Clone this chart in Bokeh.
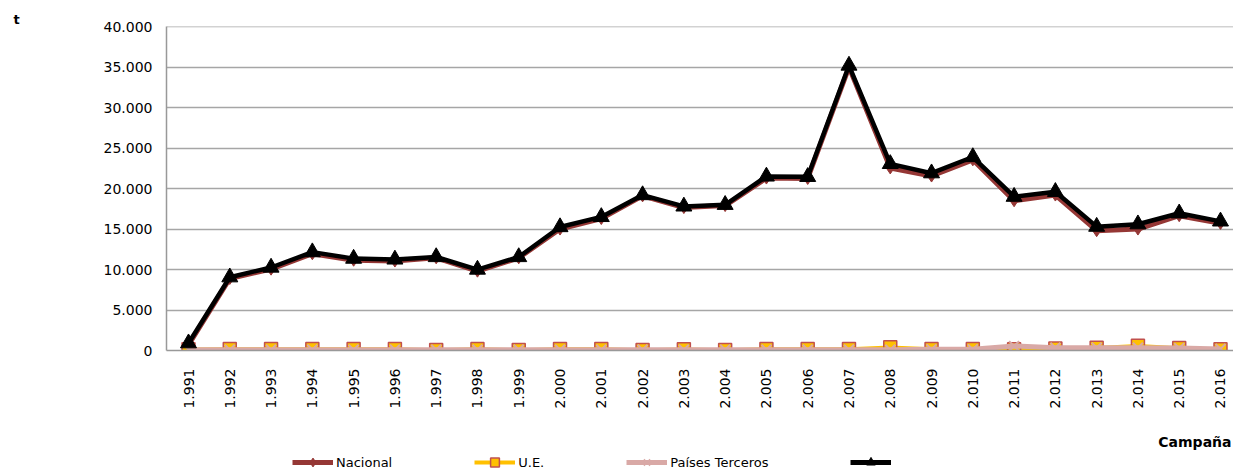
from math import pi
from bokeh.plotting import figure
from bokeh.layouts import column
from bokeh.models import Range1d, FixedTicker, Legend, LegendItem, Title, Label
from bokeh.core.properties import value
from bokeh.embed import file_html
from bokeh.resources import INLINE

# ---------------- data ----------------
years = ["1.991", "1.992", "1.993", "1.994", "1.995", "1.996", "1.997", "1.998",
         "1.999", "2.000", "2.001", "2.002", "2.003", "2.004", "2.005", "2.006",
         "2.007", "2.008", "2.009", "2.010", "2.011", "2.012", "2.013", "2.014",
         "2.015", "2.016"]
total = [900, 9050, 10250, 12150, 11350, 11250, 11550, 10000, 11550, 15250,
         16500, 19200, 17800, 18000, 21500, 21450, 35200, 23050, 21900, 23900,
         19000, 19600, 15300, 15600, 16950, 15950]
nacional = [700, 8900, 10050, 11950, 11150, 11050, 11450, 9800, 11450, 15000,
            16300, 19100, 17650, 17900, 21300, 21250, 35000, 22550, 21550, 23550,
            18500, 19200, 14800, 15000, 16650, 15700]
ue = [150, 200, 200, 200, 200, 200, 50, 200, 50, 200, 200, 50, 150, 50, 200,
      200, 200, 400, 200, 200, 150, 250, 350, 600, 300, 150]
paises = [100, 100, 100, 100, 100, 100, 100, 100, 100, 100, 100, 100, 100, 100,
          100, 100, 100, 100, 150, 150, 550, 350, 350, 350, 300, 200]
y_ticks = [0, 5000, 10000, 15000, 20000, 25000, 30000, 35000, 40000]
y_tick_labels = ["0", "5.000", "10.000", "15.000", "20.000", "25.000",
                 "30.000", "35.000", "40.000"]
series_names = ["Nacional", "U.E.", "Países Terceros", ""]
unit_label = "t"
x_title = "Campaña"

x = list(range(len(years)))

FONT = "DejaVu Sans"
c_nac = "#953735"
c_ue = "#FFC000"
c_ue_edge = "#C0504D"
c_pt = "#D9A9A6"

# ---------------- main chart ----------------
p = figure(width=1233, height=411, output_backend="svg", toolbar_location=None,
           x_range=Range1d(-0.533, 25.315), y_range=Range1d(0, 40020),
           min_border_left=166, min_border_right=0, min_border_top=26,
           min_border_bottom=61)
p.outline_line_color = None
p.background_fill_color = "white"
p.border_fill_color = "white"

p.xgrid.grid_line_color = None
p.ygrid.grid_line_color = "#A6A6A6"
p.ygrid.grid_line_width = 1.5
p.ygrid.ticker = FixedTicker(ticks=y_ticks)

p.yaxis.ticker = FixedTicker(ticks=y_ticks)
p.yaxis.major_label_overrides = {t: l for t, l in zip(y_ticks, y_tick_labels)}
p.yaxis.axis_line_color = "#999999"
p.yaxis.axis_line_width = 1.5
p.yaxis.major_tick_out = 0
p.yaxis.major_tick_in = 0
p.yaxis.minor_tick_line_color = None
p.yaxis.major_label_standoff = 14
p.yaxis.major_label_text_font = FONT
p.yaxis.major_label_text_font_size = "14px"
p.yaxis.major_label_text_color = "#000000"

p.xaxis.ticker = FixedTicker(ticks=x)
p.xaxis.major_label_overrides = {i: y for i, y in zip(x, years)}
p.xaxis.major_label_orientation = pi / 2
p.xaxis.axis_line_color = "#999999"
p.xaxis.axis_line_width = 1.5
p.xaxis.major_tick_out = 0
p.xaxis.major_tick_in = 0
p.xaxis.minor_tick_line_color = None
p.xaxis.major_label_standoff = 18
p.xaxis.major_label_text_font = FONT
p.xaxis.major_label_text_font_size = "14px"
p.xaxis.major_label_text_color = "#000000"

p.line(x, nacional, line_color=c_nac, line_width=5, line_join="round")
p.scatter(x, nacional, marker="diamond", size=12, fill_color=c_nac, line_color=c_nac)
p.line(x, ue, line_color=c_ue, line_width=3.5, line_join="round")
p.scatter(x, ue, marker="square", size=13, fill_color=c_ue,
          line_color=c_ue_edge, line_width=1.5)
p.line(x, paises, line_color=c_pt, line_width=5, line_join="round")
p.scatter(x, paises, marker="x", size=14, line_color=c_pt, line_width=2)
p.line(x, total, line_color="black", line_width=4.5, line_join="round")
p.scatter(x, total, marker="triangle", size=16, fill_color="black", line_color="black")

p.add_layout(Title(text=unit_label, align="left", offset=-153, standoff=0,
                   text_font=FONT, text_font_size="13px", text_font_style="bold",
                   text_color="#000000"), "above")

# ---------------- strip below: axis title + legend ----------------
# (the column aligns this strip's frame with the chart's frame, which starts at 166px)
q = figure(width=1233, height=60, output_backend="svg", toolbar_location=None,
           x_range=Range1d(166, 1233), y_range=Range1d(-60, 0),
           min_border=0, min_border_left=0, min_border_right=0,
           min_border_top=0, min_border_bottom=0)
q.axis.visible = False
q.grid.grid_line_color = None
q.outline_line_color = None
q.background_fill_color = "white"
q.border_fill_color = "white"

q.add_layout(Label(x=1231, y=-30, text=x_title, text_font=FONT,
                   text_font_size="14px", text_font_style="bold",
                   text_color="#000000", text_align="right",
                   text_baseline="middle"))

# legend swatches (series data lies outside this strip's visible range)
sw = []
sw.append([q.line(x, nacional, line_color=c_nac, line_width=5),
           q.scatter(x, nacional, marker="diamond", size=9, fill_color=c_nac,
                     line_color=c_nac)])
sw.append([q.line(x, ue, line_color=c_ue, line_width=4),
           q.scatter(x, ue, marker="square", size=9, fill_color=c_ue,
                     line_color=c_ue_edge, line_width=1.5)])
sw.append([q.line(x, paises, line_color=c_pt, line_width=5),
           q.scatter(x, paises, marker="x", size=9, line_color=c_pt, line_width=1.5)])
sw.append([q.line(x, total, line_color="black", line_width=5),
           q.scatter(x, total, marker="triangle", size=9, fill_color="black",
                     line_color="black")])

items = [LegendItem(label=value(n if n else " "), renderers=rs)
         for n, rs in zip(series_names, sw)]
lg = Legend(items=items, location=(126, -2), orientation="horizontal",
            padding=0, margin=0, spacing=82, glyph_width=41, glyph_height=22,
            label_height=22, label_standoff=3,
            label_text_font=FONT, label_text_font_size="13px",
            label_text_color="#000000",
            background_fill_alpha=0, border_line_color=None)
q.add_layout(lg, "center")

layout = column(p, q, spacing=0)
open("out.html", "w").write(file_html(layout, INLINE))
